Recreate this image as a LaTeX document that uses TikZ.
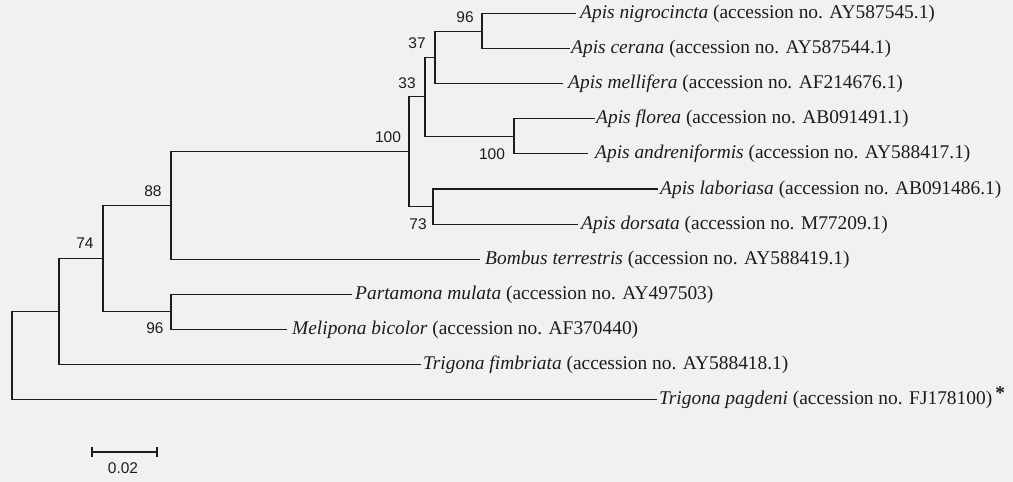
\documentclass[tikz,border=0pt]{standalone}
\usepackage{fontspec}
\setmainfont{Liberation Serif}
\newfontfamily\labfont{Liberation Sans}
\definecolor{bg}{RGB}{241,241,239}
\definecolor{ink}{RGB}{28,28,28}
\begin{document}
\begin{tikzpicture}[x=1pt,y=-1pt,
  branch/.style={draw=ink,line width=1.1pt},
  leaf/.style={anchor=base west,inner sep=0pt,text=ink,font=\fontsize{19.4}{21}\selectfont},
  boot/.style={inner sep=0pt,text=ink,font=\labfont\fontsize{15.5}{17}\selectfont}]
\fill[bg] (0,0) rectangle (1013,482);
\useasboundingbox (0,0) rectangle (1013,482);
% leaf line ends
\coordinate (e1) at (576,13.5);
\coordinate (e2) at (570,48.6);
\coordinate (e3) at (563,83.7);
\coordinate (e4) at (595,118.8);
\coordinate (e5) at (588,153.9);
\coordinate (e6) at (658,189);
\coordinate (e7) at (578,224.1);
\coordinate (e8) at (480,259.2);
\coordinate (e9) at (352,294.3);
\coordinate (e10) at (287,329.4);
\coordinate (e11) at (421,364.5);
\coordinate (e12) at (657,399.6);
% leaf labels
\node[leaf] (t1) at (580,18.5) {\textit{Apis nigrocincta} (accession no. AY587545.1)};
\node[leaf] (t2) at (571,53.6) {\textit{Apis cerana} (accession no. AY587544.1)};
\node[leaf] (t3) at (568,88.7) {\textit{Apis mellifera} (accession no. AF214676.1)};
\node[leaf] (t4) at (596,123.8) {\textit{Apis florea} (accession no. AB091491.1)};
\node[leaf] (t5) at (595,158.9) {\textit{Apis andreniformis} (accession no. AY588417.1)};
\node[leaf] (t6) at (660,194) {\textit{Apis laboriasa} (accession no. AB091486.1)};
\node[leaf] (t7) at (581,229.1) {\textit{Apis dorsata} (accession no. M77209.1)};
\node[leaf] (t8) at (485,264.2) {\textit{Bombus terrestris} (accession no. AY588419.1)};
\node[leaf] (t9) at (355,299.3) {\textit{Partamona mulata} (accession no. AY497503)};
\node[leaf] (t10) at (292,334.4) {\textit{Melipona bicolor} (accession no. AF370440)};
\node[leaf] (t11) at (423,369.5) {\textit{Trigona fimbriata} (accession no. AY588418.1)};
\node[leaf] (t12) at (659,404.6) {\textit{Trigona pagdeni} (accession no. FJ178100)\,\raisebox{5pt}{\textbf{*}}};
% internal nodes
\coordinate (n96a) at (482,31.05);
\coordinate (n37) at (435,57.4);
\coordinate (n100b) at (514,136.35);
\coordinate (n33) at (425,96.9);
\coordinate (n73) at (433,206.55);
\coordinate (n100a) at (409,151.7);
\coordinate (n88) at (171,205.45);
\coordinate (n96b) at (171,311.85);
\coordinate (n74) at (103,258.65);
\coordinate (nX) at (59,311.6);
\coordinate (root) at (12,355.6);
% branches
\draw[branch] (n96a) |- (e1) (n96a) |- (e2);
\draw[branch] (n37) |- (n96a) (n37) |- (e3);
\draw[branch] (n100b) |- (e4) (n100b) |- (e5);
\draw[branch] (n33) |- (n37) (n33) |- (n100b);
\draw[branch] (n73) |- (e6) (n73) |- (e7);
\draw[branch] (n100a) |- (n33) (n100a) |- (n73);
\draw[branch] (n88) |- (n100a) (n88) |- (e8);
\draw[branch] (n96b) |- (e9) (n96b) |- (e10);
\draw[branch] (n74) |- (n88) (n74) |- (n96b);
\draw[branch] (nX) |- (n74) (nX) |- (e11);
\draw[branch] (root) |- (nX) (root) |- (e12);
% bootstrap values
\node[boot] (b96a) at (465,17) {96};
\node[boot] (b37) at (417,43) {37};
\node[boot] (b33) at (407,83) {33};
\node[boot] (b100a) at (388,137) {100};
\node[boot] (b100b) at (492,154) {100};
\node[boot] (b73) at (418,224) {73};
\node[boot] (b88) at (153,191) {88};
\node[boot] (b74) at (85,243) {74};
\node[boot] (b96b) at (155,328) {96};
% scale bar
\coordinate (s1) at (92,452);
\coordinate (s2) at (157,452);
\draw[branch] (s1) -- (s2);
\draw[branch] ([yshift=-5pt]s1) -- ([yshift=5pt]s1);
\draw[branch] ([yshift=-5pt]s2) -- ([yshift=5pt]s2);
\node[boot] (sl) at (123,468) {0.02};
\end{tikzpicture}
\end{document}
